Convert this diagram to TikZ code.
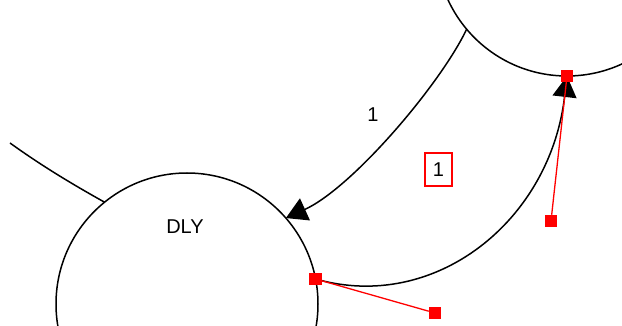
\documentclass[tikz,border=0pt]{standalone}
\usepackage{fontspec}
\setmainfont{Liberation Sans}
\usetikzlibrary{arrows.meta}
\begin{document}
\begin{tikzpicture}[x=1pt,y=-1pt,
  statecircle/.style={circle,draw=black,line width=1.5pt,inner sep=0pt,outer sep=0pt,minimum size=#1},
  edgeline/.style={draw=black,line width=1.5pt},
  tipstyle/.style={-{Triangle[length=21pt,width=24pt]}},
  handle/.style={rectangle,fill=red,inner sep=0pt,outer sep=0pt,minimum size=12.5pt},
  handleline/.style={draw=red,line width=1.3pt},
  lbl/.style={font=\fontsize{20}{22}\selectfont,inner sep=0pt},
  boxlbl/.style={draw=red,line width=1.3pt,font=\fontsize{20}{22}\selectfont,minimum width=27pt,minimum height=33pt,inner sep=0pt}]
\clip (0,0) rectangle (622,326);
\fill[white] (0,0) rectangle (622,326);
% states
\node[statecircle=262pt] (dly) at (187,304) {};
\node[lbl] (dlytext) at (185,227) {DLY};
\node[statecircle=262pt] (top) at (567,-55) {};
\coordinate (lft) at (10,143);
% incoming edge from left
\draw[edgeline] (lft) .. controls (42,166) and (72,184) .. (dly.129.5);
% edge 1
\draw[edgeline,tipstyle] (top.220.4) .. controls (440,85) and (352,188) .. (dly.41.9);
\node[lbl] (l1) at (373,115) {1};
% edge 2 with control handles
\draw[edgeline,tipstyle] (dly.11.9) .. controls (435,313) and (550,221) .. (top.270);
\node[boxlbl] (l2) at (438.5,169.5) {1};
\node[handle] (h1) at (dly.11.9) {};
\node[handle] (c1) at (435,313) {};
\node[handle] (h2) at (top.270) {};
\node[handle] (c2) at (551,221) {};
\draw[handleline] (h1.center) -- (c1);
\draw[handleline] (h2.center) -- (c2);
\node[handle] at (h1) {};
\node[handle] at (h2) {};
\end{tikzpicture}
\end{document}
